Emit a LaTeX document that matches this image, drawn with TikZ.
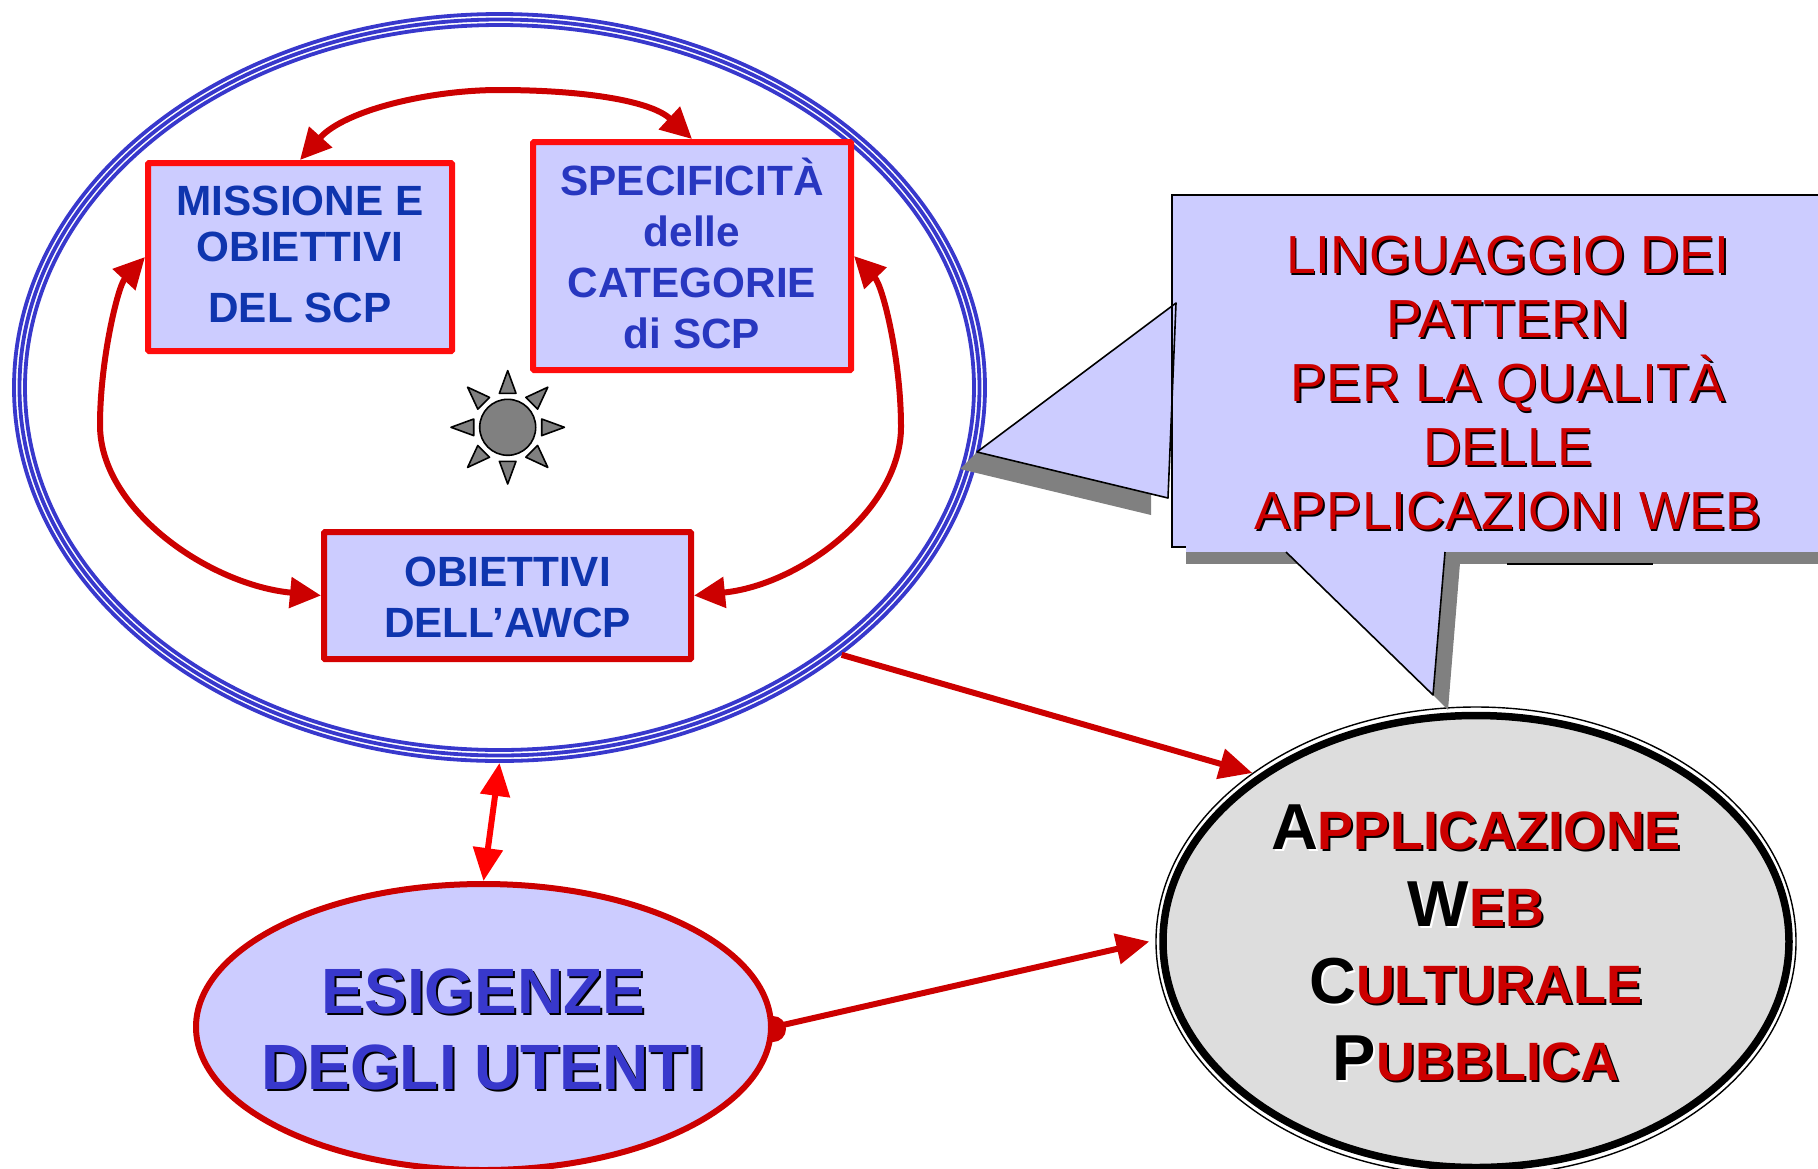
\documentclass[tikz,border=0pt]{standalone}
\usepackage{fontspec}
\setmainfont{Liberation Sans}
\usetikzlibrary{arrows.meta,shapes.geometric}
\definecolor{paleblue}{HTML}{CCCCFF}
\definecolor{ringblue}{HTML}{3838CC}
\definecolor{deepblue}{HTML}{0F35AE}
\definecolor{brightred}{HTML}{FF0D0D}
\definecolor{darkred}{HTML}{CC0000}
\definecolor{shadowgray}{HTML}{808080}
\definecolor{ovalgray}{HTML}{DDDDDD}
\newcommand{\shtext}[3][black]{\rlap{\hspace{#2}\raisebox{-#2}{\textcolor{#1}{#3}}}#3}
\newcommand{\fsz}[2]{\fontsize{#1}{#2}\selectfont}
\newcommand{\bigsm}[2]{{\fsz{65}{65}\color{black}\shtext[white]{2pt}{#1}}{\fsz{54}{54}\color{darkred}\shtext{2pt}{#2}}}
\tikzset{
  ring/.style={ellipse,draw=ringblue,line width=3.8pt,inner sep=0pt},
  boxnode/.style={rectangle,draw=brightred,line width=6pt,fill=paleblue,rounded corners=1pt,inner sep=0pt,align=center,font=\bfseries\fsz{42.3}{46},text=deepblue},
  curvearrow/.style={draw=darkred,line width=6pt,{Triangle[length=31pt,width=30pt]}-{Triangle[length=31pt,width=30pt]}},
  straightarrow/.style={draw=darkred,line width=6pt,-{Triangle[length=33pt,width=30pt]}},
  doublearrow/.style={draw=red,line width=6pt,{Triangle[length=33pt,width=29pt]}-{Triangle[length=33pt,width=29pt]}},
  ray/.style={draw=black,fill=shadowgray,line width=1.6pt,line join=round},
  calloutfill/.style={fill=paleblue,draw=none},
  calloutline/.style={draw=black,line width=1.6pt},
}
\begin{document}
\begin{tikzpicture}[x=1pt,y=-1pt]
\useasboundingbox (0,0) rectangle (1818,1168);
% big triple ellipse
\node[ring,minimum width=971pt,minimum height=747pt] (bigout) at (499.5,387.5) {};
\node[ring,minimum width=960pt,minimum height=736pt] (bigmid) at (499.5,387.5) {};
\node[ring,minimum width=949pt,minimum height=725pt] (biginn) at (499.5,387.5) {};
% boxes
\node[boxnode,minimum width=304pt,minimum height=188pt,text height=131pt,text depth=0pt] (mission) at (300,257) {MISSIONE E\\OBIETTIVI\\[15pt]DEL SCP};
\node[boxnode,minimum width=318pt,minimum height=228pt,text=ringblue!60!deepblue,font=\bfseries\fsz{42.3}{51},text height=185pt,text depth=0pt] (spec) at (692,256) {SPECIFICITÀ\\delle\\CATEGORIE\\di SCP};
\node[boxnode,draw=darkred!85!brightred,minimum width=367pt,minimum height=127pt,font=\bfseries\fsz{42.3}{51},text height=84pt,text depth=0pt] (obj) at (507.5,595.5) {OBIETTIVI\\DELL’AWCP};
% sun
\node[circle,draw=black,fill=shadowgray,line width=1.6pt,minimum size=56pt,inner sep=0pt] (sun) at (507.7,427.3) {};
\foreach \a in {0,45,...,315}{
  \draw[ray,shift={(sun.center)},rotate=\a] (56.7,0) -- (34,8.3) -- (34,-8.3) -- cycle;
}
% dot on the rim of the user needs ellipse
\fill[darkred] (773,1029) circle (13pt);
% user needs ellipse
\node[ellipse,draw=darkred,line width=6pt,fill=paleblue,minimum width=575pt,minimum height=286pt,inner sep=-120pt,align=center,text=ringblue,font=\bfseries\fsz{64}{76},text height=125pt,text depth=0pt] (needs) at (483.5,1027) {\shtext{2pt}{ESIGENZE}\\\shtext{2pt}{DEGLI UTENTI}};
% application ellipse
\node[ellipse,draw=black,line width=1.4pt,minimum width=640pt,minimum height=469pt,inner sep=0pt] (appout) at (1476,941.5) {};
\node[ellipse,draw=black,line width=7.5pt,fill=ovalgray,minimum width=626pt,minimum height=452pt,inner sep=-120pt,align=center,font=\bfseries\fsz{54}{76.7},text height=277pt,text depth=0pt] (app) at (1476,941.5) {\bigsm{A}{PPLICAZIONE}\\\bigsm{W}{EB}\\\bigsm{C}{ULTURALE}\\\bigsm{P}{UBBLICA}};
% callout shadows
\fill[shadowgray] (960,469) -- (977,452) -- (1151,494) -- (1151,515) -- cycle;
\fill[shadowgray] (1186,552) rectangle (1818,563.5);
\fill[shadowgray] (1445,552) -- (1433,695) -- (1448,710) -- (1460,563) -- cycle;
\draw[calloutline] (1507,563.8) -- (1653,563.8);
% callout body
\fill[calloutfill] (1172,195) rectangle (1818,547);
\fill[calloutfill] (1186,547) rectangle (1818,552);
\fill[calloutfill] (1177,303) -- (977,452) -- (1168,498) -- cycle;
\fill[calloutfill] (1286,552) -- (1433,695) -- (1445,552) -- cycle;
\draw[calloutline] (1818,195) -- (1172,195) -- (1172,547) -- (1186,547);
\draw[calloutline,line join=round] (1176,303) -- (977,452) -- (1168,498) -- cycle;
\draw[calloutline,line join=round] (1286,552) -- (1433,695) -- (1445,552);
\node[align=center,font=\fsz{53.6}{64},text=darkred,inner sep=0pt,text height=291pt,text depth=0pt] (lang) at (1508,384) {\shtext{1.6pt}{LINGUAGGIO DEI}\\\shtext{1.6pt}{PATTERN}\\\shtext{1.6pt}{PER LA QUALITÀ}\\\shtext{1.6pt}{DELLE}\\\shtext{1.6pt}{APPLICAZIONI WEB}};
% connectors
\draw[curvearrow] (spec.north) .. controls (650,100) and (580,90) .. (499,90) .. controls (430,90) and (345,110) .. (mission.north);
\draw[curvearrow] (mission.west) .. controls (118,286) and (100,360) .. (100,425) .. controls (100,510) and (210,585) .. (obj.west);
\draw[curvearrow] (spec.east) .. controls (883,286) and (901,360) .. (901,427) .. controls (901,510) and (800,585) .. (obj.east);
\draw[doublearrow] (bigout.south) -- (needs.north);
\draw[straightarrow] (bigout.-38.3) -- (appout.143.3);
\draw[straightarrow] (needs.east) -- ([xshift=-6pt]appout.west);
\end{tikzpicture}
\end{document}
